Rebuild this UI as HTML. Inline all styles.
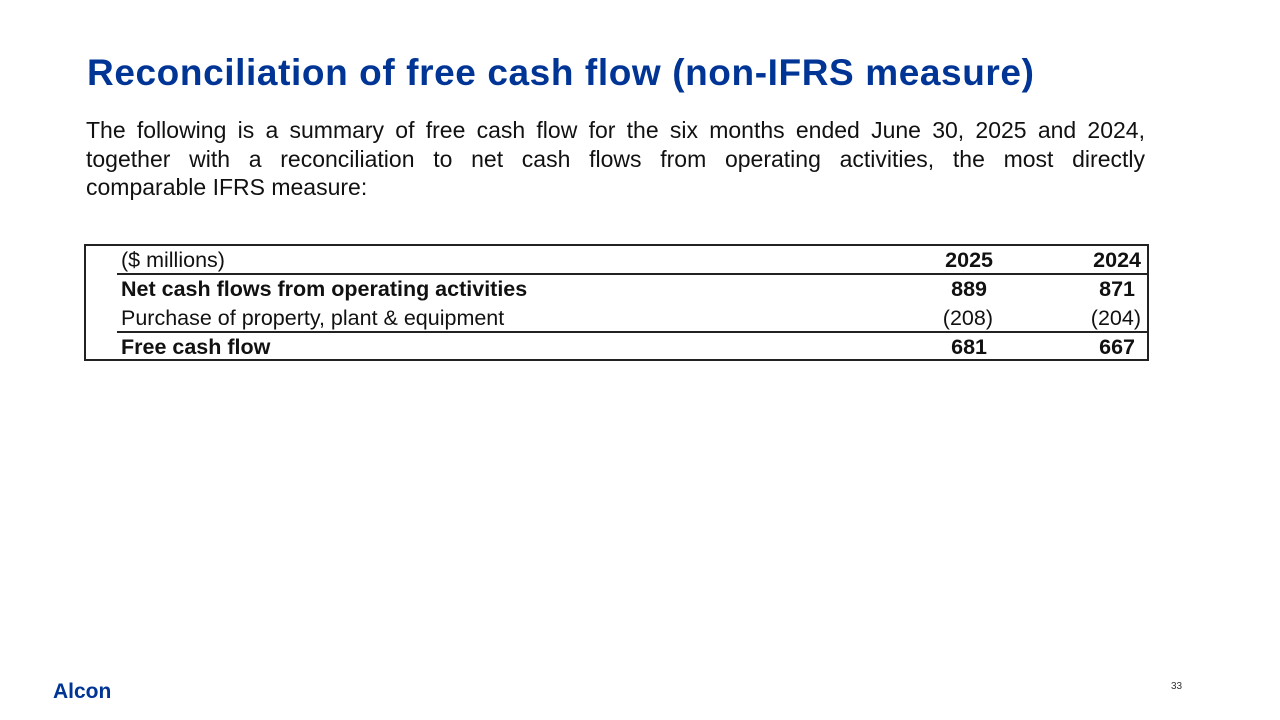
<!DOCTYPE html>
<html><head><meta charset="utf-8">
<style>
body{margin:0;width:1280px;height:720px;background:#fff;position:relative;overflow:hidden;font-family:"Liberation Sans",sans-serif;}
#title{position:absolute;left:87px;top:52px;font-size:37px;font-weight:bold;color:#003595;white-space:nowrap;letter-spacing:0.6px}
#intro{position:absolute;left:86px;top:116px;width:1059px;font-size:23px;line-height:28.5px;color:#111}
#intro div{text-align:justify;text-align-last:justify;white-space:nowrap}
#intro div.last{text-align-last:left}
#tbl{position:absolute;left:84px;top:244px;width:1065px;height:117px;border:2px solid #222;box-sizing:border-box}
.row{position:absolute;left:32px;width:1031px;height:29px;font-size:21.5px;color:#111}
.row span{position:absolute;top:2px;white-space:nowrap}
.lbl{left:3px}.c1{right:156px}.c2{right:8px}
.b{font-weight:bold}
.line{position:absolute;left:31px;right:0;height:1.5px;background:#222}
#logo{position:absolute;left:53px;top:680px;font-size:21px;font-weight:bold;color:#003595}
#pg{position:absolute;left:1171px;top:681px;font-size:10px;color:#333}
</style></head><body>
<div id="title">Reconciliation of free cash flow (non-IFRS measure)</div>
<div id="intro">
<div>The following is a summary of free cash flow for the six months ended June 30, 2025 and 2024,</div>
<div>together with a reconciliation to net cash flows from operating activities, the most directly</div>
<div class="last">comparable IFRS measure:</div>
</div>
<div id="tbl">
 <div class="row" style="top:0"><span class="lbl">($ millions)</span><span class="c1 b">2025</span><span class="c2 b">2024</span></div>
 <div class="line" style="top:27px"></div>
 <div class="row b" style="top:29px"><span class="lbl">Net cash flows from operating activities</span><span class="c1" style="right:162px">889</span><span class="c2" style="right:14px">871</span></div>
 <div class="row" style="top:58px"><span class="lbl">Purchase of property, plant &amp; equipment</span><span class="c1">(208)</span><span class="c2">(204)</span></div>
 <div class="line" style="top:85px"></div>
 <div class="row b" style="top:87px"><span class="lbl">Free cash flow</span><span class="c1" style="right:162px">681</span><span class="c2" style="right:14px">667</span></div>
</div>
<div id="logo">Alcon</div>
<div id="pg">33</div>
</body></html>
